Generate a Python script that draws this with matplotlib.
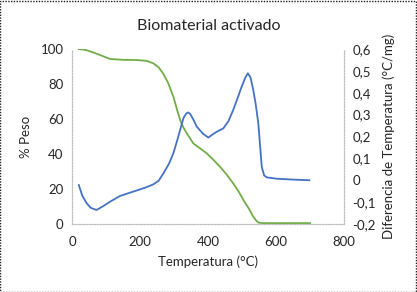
import matplotlib
matplotlib.use("Agg")
import matplotlib.pyplot as plt
from matplotlib.patches import Rectangle
from matplotlib.ticker import FuncFormatter

# Datos
temp_peso = [20, 40, 70, 112, 150, 190, 220, 239, 255, 268, 283, 298, 308, 318, 328,
             337, 357, 376, 396, 415, 435, 455, 474, 490, 504, 520, 533, 542, 548, 560, 600, 650, 700]
peso = [100, 99.5, 97.5, 94.3, 93.8, 93.7, 93.2, 91.8, 89.5, 86, 80.5, 72.8, 66, 59.4, 55,
        52, 46, 43.3, 40.4, 36.8, 32.8, 28.2, 23.2, 18.6, 13.7, 8.8, 4.2, 1.9, 0.8, 0.5, 0.5, 0.5, 0.5]

temp_dta = [20, 30, 43, 55, 72, 90, 112, 141, 180, 215, 239, 255, 269, 285, 298, 308, 318,
            328, 336, 342, 348, 356, 367, 385, 401, 412, 426, 445, 460, 474, 488, 499, 510, 517,
            525, 533, 540, 548, 553, 558, 565, 573, 602, 650, 698]
dta = [-0.022, -0.07, -0.105, -0.126, -0.136, -0.12, -0.098, -0.072, -0.052, -0.034, -0.019,
       -0.002, 0.032, 0.075, 0.123, 0.175, 0.23, 0.285, 0.305, 0.31, 0.302, 0.28, 0.245,
       0.213, 0.195, 0.208, 0.222, 0.237, 0.27, 0.321, 0.38, 0.428, 0.47, 0.489, 0.47,
       0.413, 0.35, 0.26, 0.16, 0.062, 0.022, 0.013, 0.007, 0.003, 0.0]

xticks = [0, 200, 400, 600, 800]
yticks_izq = [0, 20, 40, 60, 80, 100]
yticks_der = [-0.2, -0.1, 0, 0.1, 0.2, 0.3, 0.4, 0.5, 0.6]

plt.rcParams['font.family'] = ['Lato', 'DejaVu Sans']
texto = '#262626'

fig = plt.figure(figsize=(4.17, 2.92), dpi=100)
ax = fig.add_axes([0.1727, 0.2329, 0.6523, 0.5993])
ax2 = ax.twinx()

ax.plot(temp_peso, peso, color='#70AD47', lw=1.3)
ax2.plot(temp_dta, dta, color='#4472C4', lw=1.3)

ax.set_xlim(0, 800)
ax.set_ylim(0, 100)
ax2.set_ylim(-0.2, 0.6)
ax.set_xticks(xticks)
ax.set_yticks(yticks_izq)
ax2.set_yticks(yticks_der)
ax2.yaxis.set_major_formatter(FuncFormatter(
    lambda v, p: '0' if abs(v) < 1e-9 else f'{v:.1f}'.replace('.', ',')))

for a in (ax, ax2):
    a.tick_params(length=0, labelsize=9.5, colors=texto, pad=6)
    a.spines['top'].set_visible(False)
    for s in ('left', 'right', 'bottom'):
        a.spines[s].set_color('#bfbfbf')
        a.spines[s].set_linestyle((0, (1, 1.5)))
        a.spines[s].set_linewidth(0.8)
ax.tick_params(axis='x', pad=9)

ax.set_xlabel('Temperatura (°C)', fontsize=9.5, color=texto, labelpad=5)
ax.set_ylabel('% Peso', fontsize=9.5, color=texto, labelpad=6)
ax2.set_ylabel('Diferencia de Temperatura (°C/mg)', fontsize=9.5, color=texto, labelpad=5)
fig.text(0.5, 0.91, 'Biomaterial activado', ha='center', va='center', fontsize=11.5, color=texto)

fig.patches.append(Rectangle((0.001, 0.001), 0.997, 0.996, transform=fig.transFigure,
                             fill=False, edgecolor='#202020', lw=1, linestyle=(0, (1, 1))))

fig.savefig('out.png', dpi=100)
